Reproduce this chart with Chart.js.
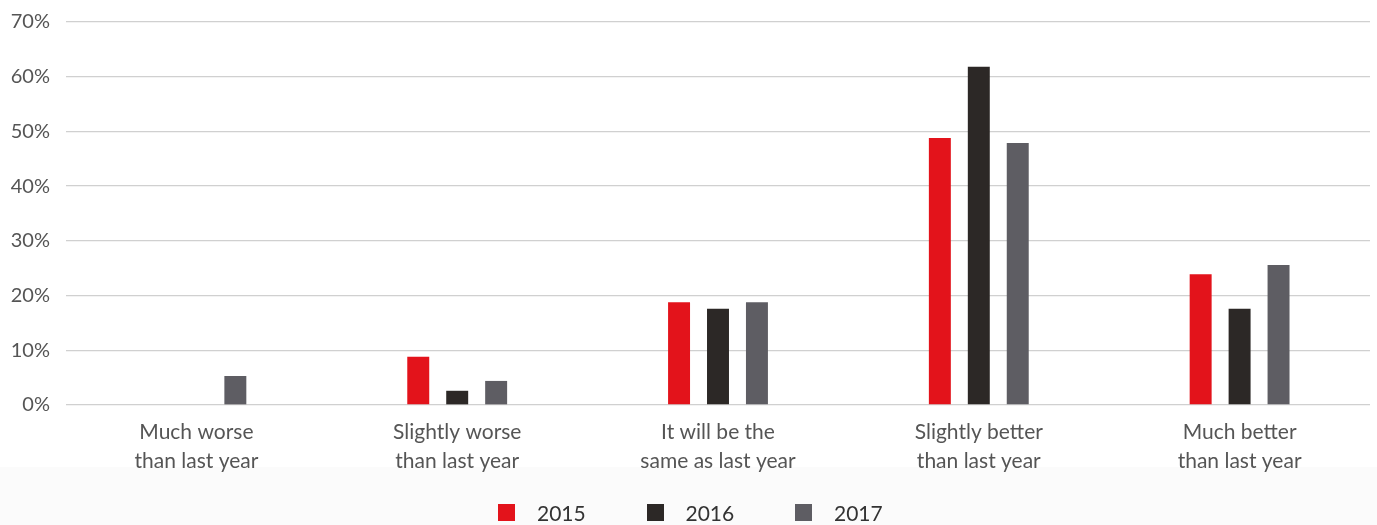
<!DOCTYPE html>
<html>
<head>
<meta charset="utf-8">
<script src="https://cdn.jsdelivr.net/npm/chart.js@4"></script>
<style>
  html, body { margin: 0; padding: 0; background: #ffffff; }
  #wrap { position: relative; width: 1377px; height: 525px; overflow: hidden; }
  #band { position: absolute; left: 0; top: 467px; width: 1377px; height: 58px; background: #fbfbfb; }
  #outlook { position: absolute; left: 0; top: 0; }
  #legend { position: absolute; left: 498px; top: 500px; display: flex; font-family: Lato, sans-serif; font-size: 21px; color: #333333; }
  .item { display: flex; align-items: center; width: 148.5px; height: 24px; }
  .swatch { width: 17px; height: 17px; margin-right: 22px; }
</style>
</head>
<body>
<div id="wrap">
  <div id="band"></div>
  <canvas id="outlook" width="1377" height="525"></canvas>
  <div id="legend"></div>
</div>
<script>
// answer categories and percentage of respondents per survey year
const categories = [
    ["Much worse", "than last year"],
    ["Slightly worse", "than last year"],
    ["It will be the", "same as last year"],
    ["Slightly better", "than last year"],
    ["Much better", "than last year"]
];
const years = ["2015", "2016", "2017"];
const values2015 = [null, 8.8, 18.8, 48.8, 23.9];
const values2016 = [null, 2.6, 17.6, 61.8, 17.6];
const values2017 = [5.3, 4.4, 18.8, 47.9, 25.6];
const yearColors = ["#e3131b", "#2c2826", "#5e5d63"];

const allValues = [values2015, values2016, values2017];

let datasets = [];
for (let i = 0; i < years.length; i++) {
    datasets.push({
        label: years[i],
        data: allValues[i],
        backgroundColor: yearColors[i],
        categoryPercentage: 0.448,
        barPercentage: 0.564
    });
}

const outlookChart = new Chart(document.getElementById('outlook'), {
    type: 'bar',
    data: {
        labels: categories,
        datasets: datasets
    },
    options: {
        responsive: false,
        animation: false,
        layout: {
            padding: { top: 22, right: 7, left: 0, bottom: 0 }
        },
        plugins: {
            legend: { display: false },
            tooltip: { enabled: false }
        },
        scales: {
            x: {
                grid: { display: false },
                border: { display: false },
                ticks: {
                    color: '#555555',
                    padding: 5,
                    maxRotation: 0,
                    autoSkip: false,
                    font: { family: 'Lato', size: 21, lineHeight: 1.38 }
                },
                afterFit: function(scale) {
                    scale.height = 120;
                }
            },
            y: {
                min: 0,
                max: 70,
                ticks: {
                    stepSize: 10,
                    color: '#555555',
                    padding: 16,
                    font: { family: 'Lato', size: 20 },
                    callback: function(value) {
                        return value + "%";
                    }
                },
                grid: {
                    color: '#d0d0d0',
                    lineWidth: 1.3,
                    drawTicks: false
                },
                border: { display: false },
                afterFit: function(scale) {
                    // fixed axis width, no extra room above the top tick
                    scale.width = 66;
                    scale.paddingTop = 0;
                    scale.paddingBottom = 0;
                }
            }
        }
    }
});

// html legend under the chart
const legendBox = document.getElementById('legend');
for (let i = 0; i < years.length; i++) {
    let item = document.createElement('div');
    item.className = 'item';
    let swatch = document.createElement('span');
    swatch.className = 'swatch';
    swatch.style.background = yearColors[i];
    let text = document.createElement('span');
    text.textContent = years[i];
    item.appendChild(swatch);
    item.appendChild(text);
    legendBox.appendChild(item);
}
</script>
</body>
</html>
